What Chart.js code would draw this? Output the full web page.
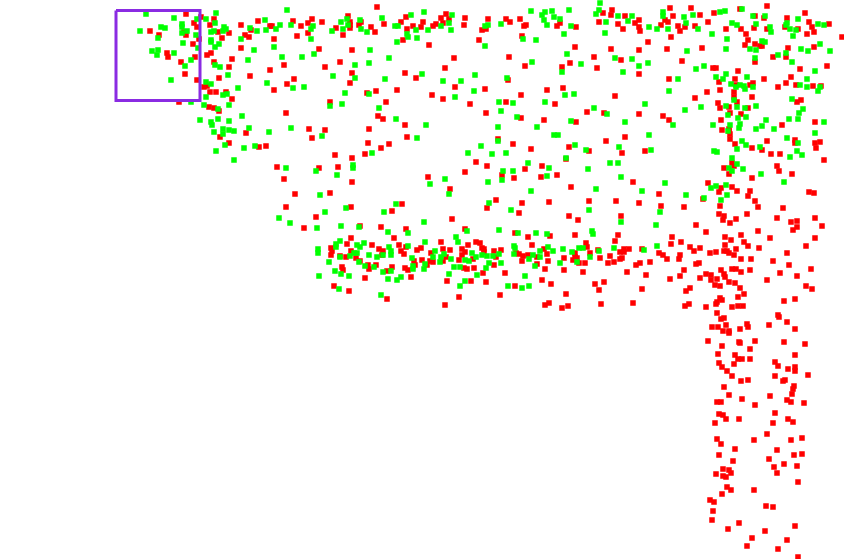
<!DOCTYPE html>
<html>
<head>
<meta charset="utf-8">
<title>Scatter</title>
<script src="https://cdn.jsdelivr.net/npm/chart.js@4"></script>
<style>
html, body { margin: 0; padding: 0; background: #fff; }
#wrap { width: 844px; height: 559px; }
</style>
</head>
<body>
<div id="wrap"><canvas id="my-chart"></canvas></div>
<script>
// values, [x, y]
const greenPoints = [
[146,14],[174,18],[216,13],[287,10],[206,19],[197,19],[215,23],[161,27],[165,28],[140,31],[182,24],[182,27],[182,33],[158,38],[183,43],[196,35],[211,32],[214,31],[224,27],[223,31],[226,29],[250,28],[257,31],[265,20],[266,30],[276,29],[280,25],[291,25],[313,26],[311,29],[332,31],[211,40],[211,42],[219,44],[215,47],[241,39],[254,50],[274,47],[311,39],[152,51],[158,50],[157,55],[174,53],[198,48],[191,60],[185,66],[215,65],[220,67],[248,60],[282,57],[302,57],[314,54],[171,80],[228,75],[333,76],[206,82],[211,84],[267,83],[238,88],[293,88],[304,87],[206,97],[223,95],[227,94],[191,102],[204,105],[229,105],[218,109],[330,106],[242,116],[200,120],[218,119],[229,121],[211,122],[212,125],[223,129],[229,130],[234,131],[249,128],[291,128],[214,132],[223,134],[269,132],[322,136],[225,145],[244,148],[255,146],[216,151],[234,160],[286,168],[187,31],
[341,22],[347,19],[360,20],[361,29],[348,25],[343,29],[367,32],[382,18],[395,26],[398,26],[411,15],[424,12],[416,30],[407,34],[408,37],[417,38],[397,42],[428,30],[441,26],[449,23],[452,15],[451,30],[488,25],[485,26],[501,24],[531,11],[545,12],[542,15],[552,11],[554,17],[544,20],[547,25],[560,19],[569,10],[571,26],[564,34],[523,39],[536,40],[485,46],[370,50],[567,54],[389,58],[355,65],[369,63],[532,62],[581,64],[562,72],[422,74],[475,75],[507,78],[355,78],[385,79],[443,81],[461,81],[474,91],[345,93],[369,94],[565,95],[574,94],[455,97],[342,104],[499,102],[513,103],[545,102],[379,108],[501,111],[396,119],[517,117],[571,121],[426,125],[498,127],[537,127],[417,138],[554,135],[558,135],[498,141],[481,146],[575,145],[586,150],[372,153],[468,153],[492,154],[506,153],[566,158],[528,163],[353,165],[353,168],[549,168],[588,169],
[600,3],[599,10],[596,14],[618,16],[632,16],[663,12],[663,16],[684,17],[693,15],[720,12],[725,11],[742,9],[753,16],[765,16],[606,22],[628,21],[649,27],[657,29],[668,29],[686,23],[698,29],[732,23],[737,25],[756,24],[770,27],[771,32],[787,23],[786,25],[790,29],[798,19],[796,30],[818,24],[824,25],[605,33],[712,34],[727,39],[793,36],[762,41],[765,42],[726,49],[750,49],[756,50],[687,51],[801,49],[808,51],[820,44],[830,51],[778,55],[786,53],[615,58],[632,59],[648,63],[755,58],[792,62],[639,66],[623,72],[696,69],[704,66],[815,71],[726,74],[716,77],[723,79],[747,77],[678,79],[807,79],[731,84],[740,85],[745,89],[744,86],[736,87],[753,87],[800,85],[807,87],[820,87],[818,91],[669,91],[792,99],[734,100],[645,104],[594,108],[756,106],[737,107],[726,106],[745,108],[701,107],[685,110],[803,109],[799,113],[607,114],[728,115],[738,118],[746,117],[789,119],[798,119],[766,120],[625,122],[673,125],[713,125],[730,125],[740,124],[739,128],[762,126],[756,129],[774,129],[824,122],[728,131],[815,133],[649,135],[787,138],[742,141],[798,143],[619,147],[746,145],[760,147],[737,149],[651,150],[714,151],[717,152],[797,151],[802,155],[790,157],[732,158],[610,163],[618,163],[737,164],[729,168],[743,169],
[316,171],[337,175],[430,184],[445,179],[320,195],[449,194],[396,204],[325,212],[346,208],[384,212],[279,218],[290,223],[317,228],[341,226],[359,227],[424,222],[388,232],[408,233],[467,231],[456,237],[458,242],[425,242],[340,241],[336,244],[357,245],[364,243],[360,247],[336,247],[408,246],[318,249],[318,253],[389,247],[391,251],[391,255],[435,251],[383,255],[377,257],[369,255],[357,253],[354,253],[350,256],[340,257],[329,262],[359,262],[412,258],[433,257],[444,254],[441,257],[440,262],[451,259],[472,253],[476,257],[469,261],[465,260],[454,267],[460,267],[413,266],[413,269],[424,269],[425,264],[365,266],[374,267],[383,272],[391,271],[335,271],[341,274],[349,276],[319,276],[388,279],[401,277],[397,280],[449,274],[477,275],[465,281],[460,286],[339,289],[381,295],
[503,171],[513,171],[547,176],[488,182],[502,180],[621,177],[665,183],[531,191],[596,189],[642,191],[489,203],[511,210],[589,210],[660,212],[621,222],[656,225],[499,230],[518,233],[536,233],[547,234],[592,231],[593,234],[657,246],[514,246],[515,248],[548,247],[563,249],[553,251],[540,251],[572,252],[579,248],[583,248],[599,251],[614,248],[644,250],[482,255],[487,256],[493,256],[499,254],[514,254],[533,255],[540,257],[529,259],[590,257],[489,263],[501,263],[560,263],[577,262],[486,268],[535,266],[525,276],[508,286],[522,288],[529,286],
[732,171],[761,174],[784,182],[726,185],[716,186],[711,188],[727,195],[686,195],[704,198],[721,200]
]

const redPoints = [
[186,14],[201,17],[214,19],[194,23],[197,27],[210,25],[241,25],[258,21],[270,26],[272,26],[293,21],[312,19],[301,26],[308,23],[322,22],[336,28],[150,31],[159,35],[184,32],[186,35],[199,39],[218,32],[229,33],[222,38],[245,35],[249,37],[251,30],[274,39],[297,36],[308,33],[193,44],[241,48],[319,49],[167,53],[168,57],[195,57],[207,55],[211,53],[232,59],[181,62],[214,62],[229,67],[284,65],[270,70],[325,67],[340,62],[185,74],[250,76],[219,78],[197,80],[294,79],[287,84],[204,87],[207,86],[274,90],[210,92],[216,92],[226,92],[232,99],[330,102],[179,102],[209,107],[214,108],[219,111],[286,113],[309,129],[325,130],[246,133],[220,137],[312,138],[229,143],[259,147],[266,146],[335,155],[277,167],[319,168],[338,167],
[377,7],[348,16],[350,22],[350,25],[350,28],[359,25],[361,22],[371,27],[384,24],[375,32],[343,35],[406,17],[401,22],[413,26],[407,29],[423,22],[421,27],[403,40],[429,45],[441,18],[446,14],[449,19],[443,23],[436,24],[433,26],[465,18],[464,25],[488,19],[482,30],[486,29],[506,19],[510,22],[520,19],[524,26],[526,25],[479,40],[522,36],[560,23],[557,26],[576,27],[575,47],[352,50],[509,57],[454,58],[445,68],[525,66],[570,63],[562,67],[352,73],[405,73],[416,78],[350,83],[508,80],[367,93],[376,91],[397,90],[455,87],[485,89],[547,90],[563,88],[432,95],[443,99],[521,95],[386,102],[470,104],[506,102],[555,104],[587,112],[378,116],[383,119],[486,113],[521,118],[544,120],[576,122],[369,129],[405,125],[407,137],[498,139],[368,143],[381,148],[389,144],[365,154],[352,158],[513,144],[531,149],[569,147],[566,159],[589,151],[476,162],[487,166],[542,166],[525,169],
[670,8],[691,8],[612,10],[603,13],[611,15],[625,16],[673,16],[700,15],[714,13],[740,9],[767,6],[805,13],[787,18],[764,18],[755,16],[639,20],[599,22],[618,24],[635,23],[665,20],[668,22],[661,25],[678,26],[685,27],[680,31],[695,26],[708,22],[639,27],[640,31],[623,29],[671,37],[726,29],[741,29],[746,34],[754,28],[767,29],[785,27],[798,29],[809,22],[812,27],[814,32],[807,34],[829,24],[842,37],[648,42],[748,40],[745,45],[755,44],[760,46],[762,46],[611,49],[639,50],[667,49],[702,48],[788,48],[814,47],[594,57],[621,60],[682,61],[773,57],[786,57],[755,62],[597,68],[639,74],[713,68],[716,68],[738,71],[800,69],[827,66],[669,79],[735,79],[719,82],[764,79],[791,77],[786,83],[753,83],[750,85],[736,85],[778,87],[796,85],[813,86],[821,86],[720,90],[734,92],[707,92],[615,96],[695,98],[752,97],[734,97],[801,100],[797,102],[718,103],[737,102],[720,108],[729,107],[604,113],[639,114],[663,116],[669,120],[730,113],[741,114],[748,108],[721,120],[815,122],[782,125],[722,130],[729,129],[729,131],[730,134],[625,137],[606,141],[730,139],[735,144],[767,141],[795,140],[795,143],[820,142],[815,143],[816,148],[645,151],[622,153],[752,148],[762,150],[771,154],[780,154],[824,160],[777,166],[732,163],[724,168],[734,166],
[284,179],[352,182],[428,177],[465,172],[450,189],[295,194],[330,193],[286,207],[351,207],[402,204],[392,211],[316,217],[452,219],[304,228],[381,227],[360,226],[406,229],[465,229],[351,238],[394,238],[347,244],[372,245],[399,245],[441,242],[476,242],[480,243],[468,245],[331,248],[332,251],[331,255],[351,251],[379,249],[383,251],[401,251],[406,247],[404,254],[417,250],[421,248],[431,253],[443,249],[450,250],[462,249],[465,252],[462,255],[340,256],[346,257],[356,258],[360,261],[382,255],[376,265],[368,265],[369,269],[342,267],[343,270],[387,271],[392,267],[408,270],[405,268],[414,261],[415,265],[422,260],[430,261],[433,262],[427,265],[443,261],[446,257],[459,260],[467,269],[464,268],[474,268],[473,259],[411,277],[365,278],[447,281],[471,281],[334,286],[349,291],[387,299],[459,297],[445,305],
[502,175],[514,178],[541,177],[557,175],[633,182],[571,187],[659,194],[496,200],[522,203],[549,202],[589,201],[616,201],[639,203],[661,206],[487,208],[519,213],[569,216],[578,220],[621,216],[515,233],[528,237],[550,236],[575,235],[618,235],[615,241],[586,243],[532,245],[482,248],[484,249],[501,250],[494,251],[484,252],[544,249],[587,247],[624,249],[629,249],[642,249],[598,250],[620,252],[624,252],[659,253],[663,255],[667,259],[516,253],[519,254],[523,256],[528,255],[547,254],[575,253],[590,253],[537,257],[496,257],[564,258],[575,257],[573,260],[577,258],[600,258],[610,256],[622,258],[620,259],[522,261],[548,261],[579,263],[585,263],[608,263],[614,262],[640,263],[636,265],[650,262],[537,264],[494,265],[545,269],[564,270],[583,272],[627,272],[483,273],[505,273],[646,275],[542,280],[486,282],[604,282],[595,284],[551,284],[515,286],[642,289],[599,290],[500,295],[566,294],[549,303],[545,305],[568,306],[562,308],[601,304],[633,303],
[729,174],[779,171],[792,174],[752,178],[708,183],[721,188],[732,187],[719,192],[737,191],[750,191],[748,196],[703,199],[809,192],[814,193],[755,201],[684,207],[720,206],[758,207],[783,208],[719,214],[724,216],[747,214],[723,220],[736,219],[730,223],[777,218],[791,222],[797,221],[815,218],[696,225],[797,227],[793,230],[822,226],[706,232],[758,231],[725,237],[741,235],[672,237],[731,240],[744,242],[770,238],[815,238],[681,242],[671,244],[725,245],[748,246],[690,247],[700,248],[694,251],[736,249],[759,248],[806,246],[710,253],[716,252],[724,251],[727,251],[729,253],[734,255],[787,253],[680,255],[679,259],[741,259],[751,259],[773,261],[696,264],[699,263],[789,265],[684,270],[721,270],[732,269],[736,269],[750,270],[811,269],[741,272],[780,273],[706,274],[711,275],[724,274],[680,276],[725,277],[797,276],[670,279],[700,278],[711,280],[717,279],[767,280],[729,282],[735,283],[715,285],[720,286],[740,288],[806,286],[812,289],[690,288],[686,291],[744,294],[738,297],[795,299],[784,301],[720,298],[722,300],[717,302],[716,304],[689,304],[685,306],[706,307],[732,307],[738,306],[743,306],[717,313],[778,315],[779,317],[724,318],[721,319],[787,322],[747,324],[748,327],[769,325],[726,325],[712,327],[718,327],[723,331],[729,331],[729,333],[740,329],[795,329],[708,341],[739,342],[740,343],[755,341],[784,342],[805,344],[722,346],[750,349],
[718,354],[735,355],[795,355],[738,359],[742,359],[750,359],[719,363],[734,364],[775,362],[778,366],[722,367],[788,369],[795,367],[795,371],[727,371],[732,376],[775,376],[808,375],[741,381],[748,380],[783,381],[785,380],[724,387],[794,386],[793,389],[792,394],[729,395],[770,396],[742,399],[787,400],[791,402],[717,402],[721,402],[804,403],[755,405],[719,414],[723,415],[775,413],[726,419],[739,419],[788,419],[715,423],[773,423],[793,422],[767,434],[717,439],[754,440],[791,440],[802,438],[721,444],[735,449],[777,450],[719,455],[794,455],[802,454],[769,459],[733,461],[774,467],[784,464],[797,466],[723,469],[729,470],[731,473],[716,474],[723,476],[726,477],[777,473],[798,482],[727,487],[731,490],[722,494],[754,490],[710,500],[714,502],[713,511],[712,520],[766,506],[773,507],[739,523],[728,529],[795,526],[765,531],[752,538],[787,540],[747,546],[778,549],[798,557]
]

// the selection box
const boxX = [116, 200, 200, 116, 116]
const boxY = [10.5, 10.5, 100.5, 100.5, 10.5]

const toXY = (p) => ({ x: p[0], y: p[1] })

const ctx = document.getElementById('my-chart')

new Chart(ctx, {
    type: 'scatter',
    data: {
        datasets: [
            {
                label: 'box',
                data: boxX.map((x, i) => ({ x: x, y: boxY[i] })),
                showLine: true,
                borderColor: '#8a2be2',
                borderWidth: 3,
                pointRadius: 0,
                borderJoinStyle: 'miter'
            },
            {
                label: 'green',
                data: greenPoints.map(toXY),
                pointStyle: 'rect',
                pointRadius: 3.9,
                pointBorderWidth: 0,
                backgroundColor: '#00ff00'
            },
            {
                label: 'red',
                data: redPoints.map(toXY),
                pointStyle: 'rect',
                pointRadius: 3.9,
                pointBorderWidth: 0,
                backgroundColor: '#ff0000'
            }
        ]
    },
    options: {
        responsive: true,
        maintainAspectRatio: false,
        animation: false,
        layout: { padding: 0, autoPadding: false },
        plugins: { legend: { display: false }, tooltip: { enabled: false } },
        scales: {
            x: { display: false, min: 0, max: 844 },
            y: { display: false, min: 0, max: 559, reverse: true }
        }
    }
})
</script>
</body>
</html>
